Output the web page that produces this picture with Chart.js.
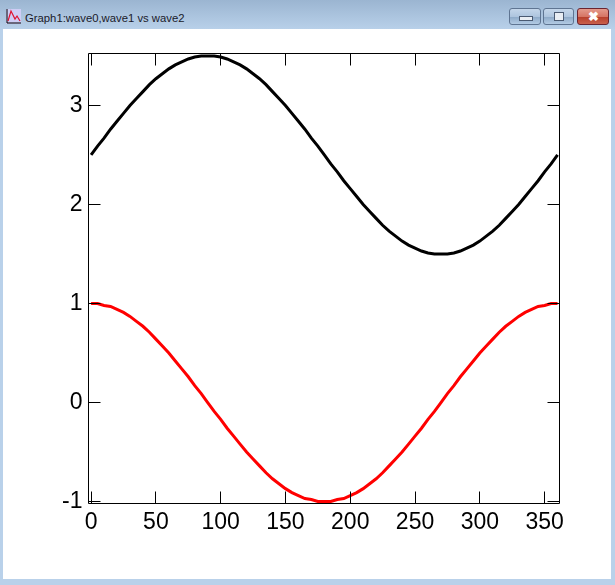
<!DOCTYPE html>
<html>
<head>
<title>Graph1:wave0,wave1 vs wave2</title>
<script src="https://cdn.jsdelivr.net/npm/chart.js@4/dist/chart.umd.min.js"></script>
<style>
    html, body { margin: 0; padding: 0; }
    #win { position: relative; width: 615px; height: 585px; overflow: hidden;
           background: linear-gradient(to bottom, #9bb5d1 0, #b9d1ea 30px, #b9d1ea 100%); }
    #title { position: absolute; left: 25px; top: 11px; font: 11.3px/14px "Liberation Sans", sans-serif; color: #1a1a2a; white-space: nowrap; }
    #icon { position: absolute; left: 6px; top: 9px; width: 15px; height: 15px; }
    #paper { position: absolute; left: 3px; top: 29px; width: 608px; height: 550px; background: #fff; }
    .btn { position: absolute; top: 8px; height: 17px; box-sizing: border-box; border: 1px solid #5f7592; border-radius: 3px;
           background: linear-gradient(to bottom, #c4d6ea 0, #aec5de 50%, #8fabc9 55%, #b3cbe4 100%); }
    .btn i { position: absolute; display: block; box-sizing: border-box; border: 1px solid #4a5a72; background: #e8edf3; }
    #close { border-color: #6b2430; background: linear-gradient(to bottom, #e49a8c 0, #d67565 50%, #b8402c 55%, #c9604c 100%);
             color: #fff; font: bold 13px/15px "Liberation Sans", sans-serif; text-align: center; }
    canvas { position: absolute; left: 0; top: 0; }
</style>
</head>
<body>
<div id="win">
    <svg id="icon" viewBox="0 0 15 15">
        <rect width="15" height="15" fill="#cfcdf5"/>
        <path d="M1 0V14H15" fill="none" stroke="#000"/>
        <path d="M2 12L5 2L9 10L11 7L14 12" fill="none" stroke="#e01030" stroke-width="1.2"/>
    </svg>
    <div id="title">Graph1:wave0,wave1 vs wave2</div>
    <div class="btn" style="left:509px;width:32px"><i style="left:9px;top:7px;width:14px;height:5px"></i></div>
    <div class="btn" style="left:543px;width:31px"><i style="left:10px;top:3px;width:10px;height:9px"></i></div>
    <div class="btn" id="close" style="left:577px;width:32px">✖</div>
    <div id="paper"></div>
    <canvas id="graph" width="615" height="585"></canvas>
</div>

<script>
    var wave2 = [0, 5, 10, 15, 20, 25, 30, 35, 40, 45, 50, 55, 60, 65, 70, 75, 80, 85, 90,
                 95, 100, 105, 110, 115, 120, 125, 130, 135, 140, 145, 150, 155, 160, 165, 170, 175, 180,
                 185, 190, 195, 200, 205, 210, 215, 220, 225, 230, 235, 240, 245, 250, 255, 260, 265, 270,
                 275, 280, 285, 290, 295, 300, 305, 310, 315, 320, 325, 330, 335, 340, 345, 350, 355, 360];
    var wave0 = [2.50, 2.59, 2.67, 2.76, 2.84, 2.92, 3.00, 3.07, 3.14, 3.21, 3.27, 3.32, 3.37, 3.41, 3.44, 3.47, 3.49, 3.50, 3.50,
                 3.50, 3.49, 3.47, 3.44, 3.41, 3.37, 3.32, 3.27, 3.21, 3.14, 3.07, 3.00, 2.92, 2.84, 2.76, 2.67, 2.59, 2.50,
                 2.41, 2.33, 2.24, 2.16, 2.08, 2.00, 1.93, 1.86, 1.79, 1.73, 1.68, 1.63, 1.59, 1.56, 1.53, 1.51, 1.50, 1.50,
                 1.50, 1.51, 1.53, 1.56, 1.59, 1.63, 1.68, 1.73, 1.79, 1.86, 1.93, 2.00, 2.08, 2.16, 2.24, 2.33, 2.41, 2.50];
    var wave1 = [1.00, 1.00, 0.98, 0.97, 0.94, 0.91, 0.87, 0.82, 0.77, 0.71, 0.64, 0.57, 0.50, 0.42, 0.34, 0.26, 0.17, 0.09, 0.00,
                 -0.09, -0.17, -0.26, -0.34, -0.42, -0.50, -0.57, -0.64, -0.71, -0.77, -0.82, -0.87, -0.91, -0.94, -0.97, -0.98, -1.00, -1.00,
                 -1.00, -0.98, -0.97, -0.94, -0.91, -0.87, -0.82, -0.77, -0.71, -0.64, -0.57, -0.50, -0.42, -0.34, -0.26, -0.17, -0.09, 0.00,
                 0.09, 0.17, 0.26, 0.34, 0.42, 0.50, 0.57, 0.64, 0.71, 0.77, 0.82, 0.87, 0.91, 0.94, 0.97, 0.98, 1.00, 1.00];
    var xTicks = [0, 50, 100, 150, 200, 250, 300, 350];
    var yTicks = [-1, 0, 1, 2, 3];

    // axes box and inward ticks on all four sides, like Igor draws them
    var frameTicks = {
        id: 'frameTicks',
        afterDatasetsDraw: function(chart) {
            var a = chart.chartArea, c = chart.ctx, len = 11;
            var crisp = function(v) { return Math.floor(v) + 0.5; };
            c.save();
            c.strokeStyle = '#000';
            c.lineWidth = 1;
            c.beginPath();
            c.rect(crisp(a.left), crisp(a.top), Math.round(a.right - a.left), Math.round(a.bottom - a.top));
            chart.scales.x.ticks.forEach(function(t) {
                var px = crisp(chart.scales.x.getPixelForValue(t.value));
                c.moveTo(px, a.top); c.lineTo(px, a.top + len + 1);
                c.moveTo(px, a.bottom); c.lineTo(px, a.bottom - len - 1);
            });
            chart.scales.y.ticks.forEach(function(t) {
                var py = crisp(chart.scales.y.getPixelForValue(t.value));
                c.moveTo(a.left, py); c.lineTo(a.left + len + 1, py);
                c.moveTo(a.right, py); c.lineTo(a.right - len - 1, py);
            });
            c.stroke();
            c.restore();
        }
    };

    var tickFont = { family: '"Liberation Sans"', size: 23 };

    new Chart(document.getElementById('graph').getContext('2d'), {
        type: 'line',
        data: {
            labels: wave2,
            datasets: [
                { label: 'wave0', data: wave0, borderColor: '#000', borderWidth: 3, pointRadius: 0, tension: 0, fill: false },
                { label: 'wave1', data: wave1, borderColor: '#ff0000', borderWidth: 3, pointRadius: 0, tension: 0, fill: false }
            ]
        },
        options: {
            responsive: false,
            animation: false,
            layout: { padding: { left: 0, top: 53.5, right: 55.5, bottom: 0 } },
            plugins: { legend: { display: false }, title: { display: false }, tooltip: { enabled: false } },
            scales: {
                x: {
                    type: 'linear',
                    min: -2,
                    max: 361.5,
                    afterBuildTicks: function(s) { s.ticks = xTicks.map(function(v) { return { value: v }; }); },
                    afterFit: function(s) { s.height = 81.5; },
                    grid: { display: false },
                    border: { display: false },
                    ticks: { color: '#000', font: tickFont, padding: -3, maxRotation: 0, autoSkip: false }
                },
                y: {
                    min: -1.02,
                    max: 3.525,
                    afterBuildTicks: function(s) { s.ticks = yTicks.map(function(v) { return { value: v }; }); },
                    afterFit: function(s) { s.width = 88.5; },
                    grid: { display: false },
                    border: { display: false },
                    ticks: { color: '#000', font: tickFont, padding: -2, autoSkip: false }
                }
            }
        },
        plugins: [frameTicks]
    });
</script>
</body>
</html>
